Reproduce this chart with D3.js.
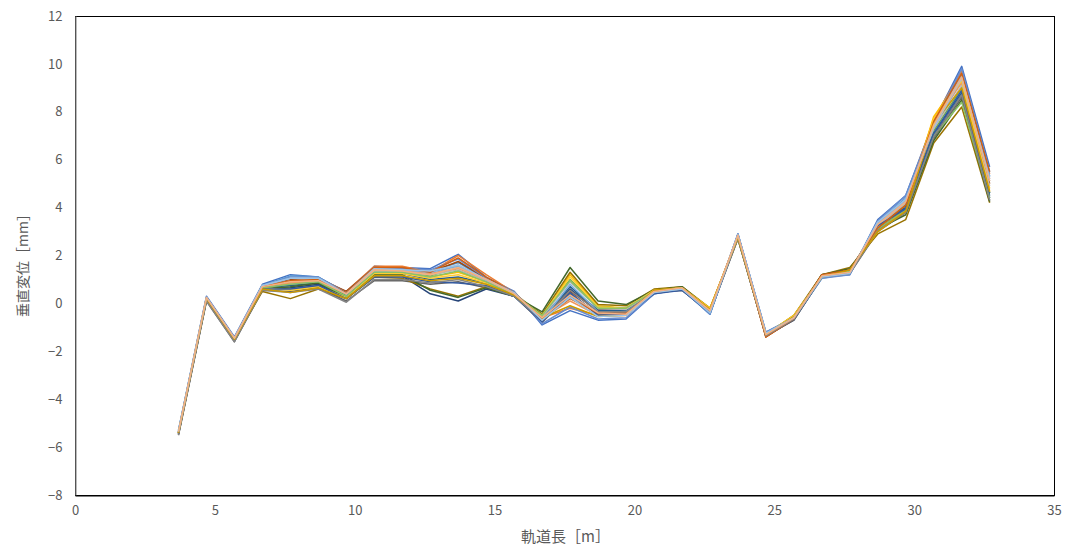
<!DOCTYPE html>
<html>
<head>
<meta charset="utf-8">
<script src="https://cdn.jsdelivr.net/npm/d3@7"></script>
<style>
  html, body { margin: 0; padding: 0; background: #fff; }
  svg { display: block; }
  text { font-family: "Noto Sans CJK JP", "Noto Sans", sans-serif; }
</style>
</head>
<body>
<svg id="chart" width="1065" height="552"></svg>
<script>
// Track position of each measuring point [m]
const positions = [3.7, 4.7, 5.7, 6.7, 7.7, 8.7, 9.7, 10.7, 11.7, 12.7, 13.7, 14.7, 15.7, 16.7, 17.7,
                   18.7, 19.7, 20.7, 21.7, 22.7, 23.7, 24.7, 25.7, 26.7, 27.7, 28.7, 29.7, 30.7, 31.7, 32.7];

// Vertical displacement [mm], one array per measurement run
const run01 = [-5.3, 0.3, -1.4, 0.8, 1.2, 1.1, 0.4, 1.55, 1.5, 1.45, 2.05, 1.1, 0.5, -0.9, -0.3, -0.7, -0.65, 0.4, 0.6, -0.45, 2.9, -1.2, -0.6, 1.1, 1.2, 3.5, 4.5, 7.6, 9.9, 5.7];
const run02 = [-5.35, 0.25, -1.45, 0.75, 0.9, 1.0, 0.5, 1.55, 1.55, 1.3, 2.0, 1.2, 0.45, -0.6, -0.2, -0.5, -0.45, 0.55, 0.65, -0.3, 2.8, -1.4, -0.65, 1.15, 1.35, 3.3, 4.3, 7.7, 9.7, 5.4];
const run03 = [-5.4, 0.2, -1.5, 0.7, 0.8, 0.9, 0.3, 1.4, 1.4, 1.2, 1.6, 0.95, 0.4, -0.5, 0.6, -0.25, -0.3, 0.5, 0.6, -0.35, 2.85, -1.3, -0.65, 1.2, 1.3, 3.2, 4.1, 7.3, 9.3, 5.1];
const run04 = [-5.4, 0.2, -1.5, 0.65, 0.6, 0.75, 0.25, 1.3, 1.3, 1.1, 1.3, 0.9, 0.35, -0.55, 1.2, -0.1, -0.2, 0.55, 0.65, -0.2, 2.75, -1.3, -0.5, 1.1, 1.4, 3.1, 4.0, 7.8, 9.5, 4.8];
const run05 = [-5.3, 0.25, -1.45, 0.75, 1.15, 1.1, 0.45, 1.5, 1.45, 1.35, 1.7, 1.0, 0.45, -0.7, 0.3, -0.45, -0.4, 0.45, 0.6, -0.45, 2.9, -1.25, -0.65, 1.05, 1.25, 3.4, 4.4, 7.5, 9.6, 5.3];
const run06 = [-5.4, 0.2, -1.5, 0.65, 0.9, 0.95, 0.35, 1.3, 1.35, 1.15, 1.5, 0.95, 0.4, -0.45, 1.0, -0.15, -0.2, 0.5, 0.65, -0.3, 2.8, -1.3, -0.6, 1.15, 1.35, 3.2, 4.1, 7.2, 9.0, 4.6];
const run07 = [-5.45, 0.15, -1.55, 0.6, 0.65, 0.8, 0.2, 1.15, 1.15, 0.4, 0.1, 0.6, 0.3, -0.75, 0.6, -0.35, -0.35, 0.45, 0.55, -0.35, 2.75, -1.35, -0.7, 1.1, 1.3, 3.3, 4.0, 7.0, 8.7, 4.4];
const run08 = [-5.4, 0.2, -1.5, 0.7, 1.0, 1.05, 0.5, 1.5, 1.45, 1.3, 1.75, 1.05, 0.4, -0.6, 0.5, -0.3, -0.3, 0.55, 0.65, -0.25, 2.8, -1.4, -0.65, 1.2, 1.4, 3.1, 3.9, 7.4, 9.4, 5.0];
const run09 = [-5.5, 0.1, -1.6, 0.55, 0.5, 0.65, 0.1, 0.95, 0.95, 0.8, 0.9, 0.65, 0.3, -0.8, 0.4, -0.45, -0.45, 0.45, 0.55, -0.4, 2.7, -1.35, -0.7, 1.1, 1.25, 3.0, 3.8, 6.9, 8.6, 4.3];
const run10 = [-5.45, 0.15, -1.5, 0.5, 0.2, 0.6, 0.2, 1.1, 1.05, 0.6, 0.3, 0.7, 0.35, -0.45, 1.3, -0.05, -0.1, 0.6, 0.7, -0.2, 2.7, -1.3, -0.5, 1.2, 1.5, 2.9, 3.5, 6.7, 8.2, 4.2];
const run11 = [-5.4, 0.2, -1.5, 0.65, 0.75, 0.85, 0.3, 1.25, 1.25, 1.0, 1.1, 0.85, 0.35, -0.65, 0.7, -0.3, -0.3, 0.45, 0.6, -0.35, 2.8, -1.3, -0.65, 1.1, 1.3, 3.2, 4.0, 7.1, 8.8, 4.5];
const run12 = [-5.4, 0.15, -1.55, 0.6, 0.7, 0.85, 0.25, 1.2, 1.2, 0.55, 0.25, 0.65, 0.3, -0.35, 1.5, 0.1, -0.05, 0.55, 0.7, -0.25, 2.75, -1.3, -0.6, 1.2, 1.45, 3.1, 3.7, 6.8, 8.5, 4.25];
const run13 = [-5.35, 0.25, -1.45, 0.75, 1.1, 1.1, 0.45, 1.5, 1.45, 1.4, 1.85, 1.05, 0.5, -0.85, -0.15, -0.65, -0.6, 0.4, 0.6, -0.45, 2.9, -1.2, -0.6, 1.05, 1.2, 3.45, 4.5, 7.5, 9.8, 5.5];
const run14 = [-5.4, 0.2, -1.5, 0.7, 0.85, 0.95, 0.4, 1.4, 1.35, 1.25, 1.45, 1.0, 0.4, -0.6, 0.1, -0.5, -0.5, 0.5, 0.65, -0.3, 2.8, -1.35, -0.6, 1.15, 1.35, 3.2, 4.2, 7.6, 9.2, 5.2];
const run15 = [-5.35, 0.2, -1.5, 0.7, 0.95, 1.0, 0.4, 1.35, 1.3, 1.2, 1.4, 0.95, 0.4, -0.55, 0.9, -0.2, -0.25, 0.5, 0.65, -0.3, 2.85, -1.3, -0.6, 1.15, 1.35, 3.25, 4.2, 7.3, 9.1, 4.9];
const run16 = [-5.4, 0.2, -1.5, 0.65, 0.55, 0.7, 0.25, 1.25, 1.25, 1.05, 1.2, 0.85, 0.35, -0.5, 1.1, -0.15, -0.2, 0.55, 0.65, -0.2, 2.75, -1.3, -0.5, 1.1, 1.4, 3.0, 3.9, 7.7, 9.3, 4.7];
const run17 = [-5.35, 0.25, -1.45, 0.75, 1.05, 1.05, 0.4, 1.45, 1.4, 1.3, 1.55, 1.0, 0.45, -0.7, 0.8, -0.35, -0.35, 0.45, 0.6, -0.4, 2.85, -1.25, -0.6, 1.1, 1.25, 3.35, 4.3, 7.4, 9.5, 5.3];
const run18 = [-5.4, 0.2, -1.5, 0.65, 0.8, 0.9, 0.3, 1.3, 1.3, 1.1, 1.35, 0.9, 0.35, -0.5, 0.95, -0.2, -0.2, 0.5, 0.65, -0.3, 2.8, -1.3, -0.6, 1.15, 1.35, 3.1, 3.9, 7.0, 8.4, 4.4];
const run19 = [-5.45, 0.15, -1.55, 0.6, 0.6, 0.75, 0.2, 1.1, 1.1, 0.9, 0.85, 0.75, 0.3, -0.75, 0.45, -0.5, -0.45, 0.4, 0.55, -0.4, 2.75, -1.35, -0.65, 1.1, 1.25, 3.25, 3.95, 7.1, 8.9, 4.6];
const run20 = [-5.4, 0.2, -1.5, 0.7, 0.95, 1.0, 0.45, 1.5, 1.5, 1.3, 1.9, 1.1, 0.45, -0.65, 0.2, -0.4, -0.4, 0.5, 0.65, -0.3, 2.8, -1.4, -0.65, 1.2, 1.4, 3.15, 4.1, 7.6, 9.6, 5.5];
const run21 = [-5.5, 0.1, -1.6, 0.55, 0.45, 0.6, 0.05, 1.0, 1.0, 0.85, 1.0, 0.7, 0.3, -0.7, 0.55, -0.35, -0.35, 0.45, 0.6, -0.35, 2.7, -1.35, -0.65, 1.1, 1.25, 3.05, 3.8, 6.95, 8.7, 4.3];
const run22 = [-5.4, 0.2, -1.5, 0.6, 0.45, 0.65, 0.2, 1.15, 1.15, 0.95, 1.05, 0.8, 0.35, -0.6, -0.1, -0.55, -0.5, 0.55, 0.65, -0.25, 2.75, -1.3, -0.55, 1.1, 1.4, 3.0, 3.85, 7.5, 9.0, 4.65];
const run23 = [-5.35, 0.25, -1.45, 0.75, 1.05, 1.05, 0.4, 1.45, 1.4, 1.35, 1.6, 1.0, 0.45, -0.7, 0.25, -0.55, -0.5, 0.45, 0.6, -0.4, 2.85, -1.25, -0.6, 1.1, 1.25, 3.4, 4.35, 7.35, 9.4, 5.2];
const run24 = [-5.35, 0.25, -1.45, 0.7, 0.9, 0.95, 0.4, 1.4, 1.35, 1.2, 1.5, 1.0, 0.4, -0.6, 0.35, -0.4, -0.45, 0.5, 0.65, -0.3, 2.85, -1.3, -0.6, 1.15, 1.3, 3.3, 4.25, 7.45, 9.45, 5.1];

const runs = [run01, run02, run03, run04, run05, run06, run07, run08, run09, run10, run11, run12,
              run13, run14, run15, run16, run17, run18, run19, run20, run21, run22, run23, run24];

const runColors = ["#4472C4", "#ED7D31", "#A5A5A5", "#FFC000", "#5B9BD5", "#70AD47",
                   "#264478", "#9E480E", "#636363", "#997300", "#255E91", "#43682B",
                   "#698ED0", "#F1975A", "#B7B7B7", "#FFCD33", "#7CAFDD", "#8CC168",
                   "#335AA1", "#D26012", "#848484", "#CC9A00", "#9DC3E6", "#F4B183"];

const xTicks = [0, 5, 10, 15, 20, 25, 30, 35];
const yTicks = [-8, -6, -4, -2, 0, 2, 4, 6, 8, 10, 12];
const xTitle = "軌道長［m］";
const yTitle = "垂直変位［mm］";

const svg = d3.select("#chart");
const plot = { left: 75, right: 1054, top: 16, bottom: 495 };

const x = d3.scaleLinear().domain([0, 35]).range([plot.left, plot.right]);
const y = d3.scaleLinear().domain([-8, 12]).range([plot.bottom, plot.top]);

// Series lines
const line = d3.line()
  .x((d, i) => x(positions[i]))
  .y(d => y(d));

svg.append("g")
  .selectAll("path")
  .data(runs)
  .join("path")
  .attr("d", d => line(d))
  .attr("fill", "none")
  .attr("stroke", (d, i) => runColors[i])
  .attr("stroke-width", 1.5)
  .attr("stroke-linejoin", "round");

// Plot frame
svg.append("rect")
  .attr("x", plot.left + 0.5)
  .attr("y", plot.top + 0.5)
  .attr("width", plot.right - plot.left)
  .attr("height", plot.bottom - plot.top)
  .attr("fill", "none")
  .attr("stroke", "#000")
  .attr("stroke-width", 1);

// Y axis
const yAxis = svg.append("g")
  .attr("transform", `translate(${plot.left + 0.5},0)`)
  .call(d3.axisLeft(y).tickValues(yTicks).tickSize(0).tickPadding(13).tickFormat(d3.format("d")));
yAxis.select(".domain").attr("stroke", "#8c8c8c").attr("stroke-width", 1.2);
yAxis.selectAll("text")
  .attr("fill", "#595959")
  .style("font-size", "13px");

// X axis
const xAxis = svg.append("g")
  .attr("transform", `translate(0,${plot.bottom + 0.5})`)
  .call(d3.axisBottom(x).tickValues(xTicks).tickSize(0).tickPadding(10).tickFormat(d3.format("d")));
xAxis.select(".domain").attr("stroke", "#000");
xAxis.selectAll("text")
  .attr("fill", "#595959")
  .style("font-size", "13px");

// Axis titles
svg.append("text")
  .attr("x", (plot.left + plot.right) / 2 + 1)
  .attr("y", 542)
  .attr("text-anchor", "middle")
  .attr("fill", "#595959")
  .style("font-size", "15px")
  .text(xTitle);

svg.append("text")
  .attr("transform", "translate(28,262) rotate(-90)")
  .attr("text-anchor", "middle")
  .attr("fill", "#595959")
  .style("font-size", "14px")
  .text(yTitle);
</script>
</body>
</html>
